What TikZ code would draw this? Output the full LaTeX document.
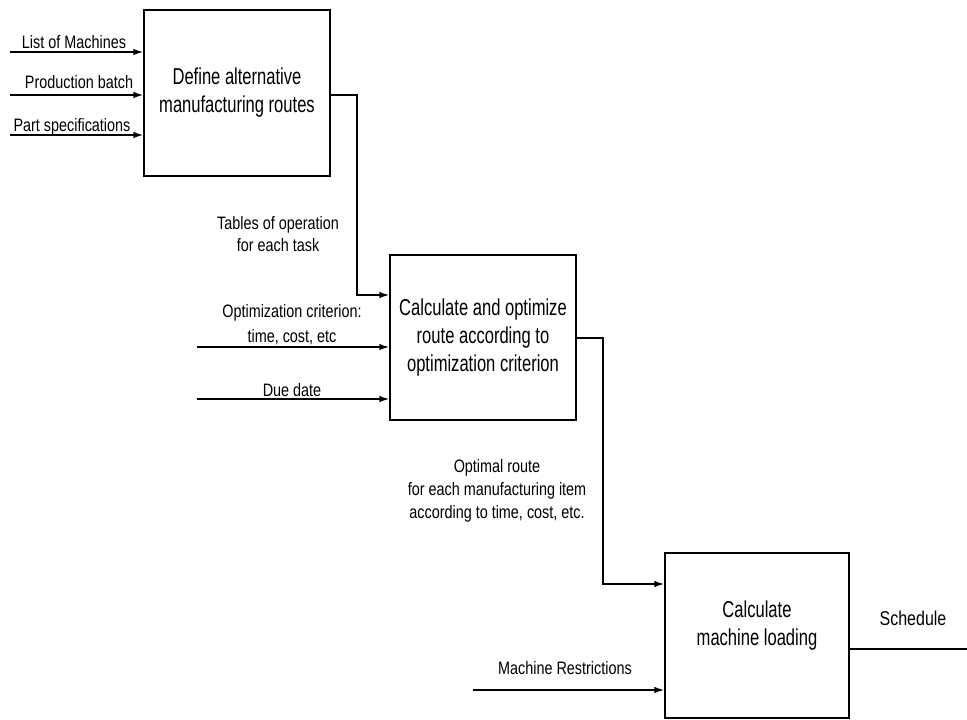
\documentclass[tikz,border=0pt]{standalone}
\usepackage{fontspec}
\setmainfont{Liberation Sans}[FakeStretch=0.8]
\newfontfamily\boxfont{Liberation Sans}[FakeStretch=0.72]
\usetikzlibrary{arrows.meta}
\begin{document}
\begin{tikzpicture}[x=1pt,y=-1pt,
  box/.style={draw,line width=1.4pt,rectangle,inner sep=0pt,align=center,
    font=\boxfont\fontsize{23}{28}\selectfont},
  lbl/.style={align=center,inner sep=0pt,font=\fontsize{18}{22}\selectfont},
  arr/.style={line width=1.4pt,-{Latex[length=10pt,width=6.5pt]}},
  ln/.style={line width=1.4pt}]
\useasboundingbox (0,0) rectangle (967,720);
% boxes
\node[box,minimum width=186pt,minimum height=166pt] (b1) at (237,93)
  {Define alternative\\manufacturing routes};
\node[box,minimum width=186pt,minimum height=165pt] (b2) at (483,337.5)
  {Calculate and optimize\\route according to\\optimization criterion};
\node[box,minimum width=184pt,minimum height=165pt] (b3) at (757,635.5) {};
\node[align=center,inner sep=0pt,font=\boxfont\fontsize{23}{28}\selectfont] (t3) at (757,626)
  {Calculate\\machine loading};
% free ends
\coordinate (i1) at (10,52);
\coordinate (i2) at (10,95);
\coordinate (i3) at (10,135);
\coordinate (i4) at (197,347);
\coordinate (i5) at (197,399);
\coordinate (i6) at (473,690);
\coordinate (o1) at (357,95);
\coordinate (o1b) at (357,295);
\coordinate (o2) at (603,338);
\coordinate (o2b) at (603,584);
\coordinate (o3) at (849,649);
\coordinate (o3e) at (967,649);
% input arrows
\draw[arr] (i1) -- (i1 -| b1.west);
\draw[arr] (i2) -- (i2 -| b1.west);
\draw[arr] (i3) -- (i3 -| b1.west);
\draw[arr] (i4) -- (i4 -| b2.west);
\draw[arr] (i5) -- (i5 -| b2.west);
\draw[arr] (i6) -- (i6 -| b3.west);
% connecting arrows
\draw[arr] (o1 -| b1.east) -- (o1) -- (o1b) -- (o1b -| b2.west);
\draw[arr] (o2 -| b2.east) -- (o2) -- (o2b) -- (o2b -| b3.west);
\draw[ln] (o3) -- (o3e);
% labels
\node[lbl] (l1) at (74,42) {List of Machines};
\node[lbl] (l2) at (79,82) {Production batch};
\node[lbl] (l3) at (72,127) {Part specifications};
\node[lbl] (l4) at (278,234) {Tables of operation\\for each task};
\node[lbl] (l5) at (292,313) {Optimization criterion:};
\node[lbl] (l6) at (292,337) {time, cost, etc};
\node[lbl] (l7) at (292,390) {Due date};
\node[lbl,font=\fontsize{18}{23}\selectfont] (l8) at (497,491)
  {Optimal route\\for each manufacturing item\\according to time, cost, etc.};
\node[lbl] (l9) at (565,668) {Machine Restrictions};
\node[lbl,font=\fontsize{20}{22}\selectfont] (l10) at (913,618) {Schedule};
\end{tikzpicture}
\end{document}
